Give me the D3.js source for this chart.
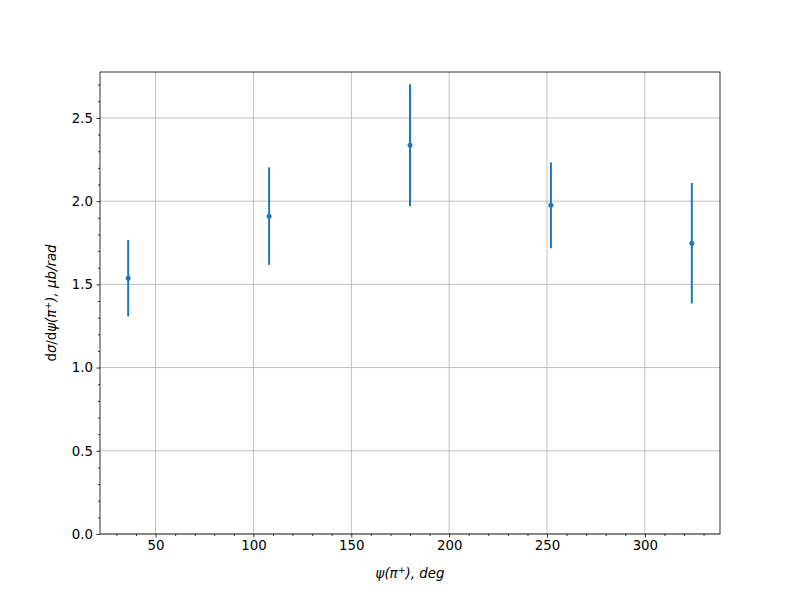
<!DOCTYPE html>
<html><head><meta charset="utf-8">
<script src="https://cdn.jsdelivr.net/npm/d3@7"></script>
<style>body{margin:0;background:#fff}svg{font-family:"DejaVu Sans",sans-serif}</style>
</head><body><svg id="c" width="800" height="600"></svg>
<script>
const psi = [36, 108, 180, 252, 324];
const values = [1.537, 1.910, 2.336, 1.975, 1.747];
const errors = [0.230, 0.293, 0.366, 0.258, 0.362];
const xTicks = [50, 100, 150, 200, 250, 300];
const yTicks = [0.0, 0.5, 1.0, 1.5, 2.0, 2.5];

const svg = d3.select("#c");
const L = 100, R = 720, T = 72, B = 534;
const x = d3.scaleLinear().domain([21.6, 338.4]).range([L, R]);
const y = d3.scaleLinear().domain([0, 2.776]).range([B, T]);
const blue = "#1f77b4";

// grid
svg.append("g").selectAll("line").data(xTicks).join("line")
  .attr("x1", d => x(d)).attr("x2", d => x(d)).attr("y1", T).attr("y2", B)
  .attr("stroke", "#b0b0b0").attr("stroke-width", 0.8);
svg.append("g").selectAll("line").data(yTicks).join("line")
  .attr("y1", d => y(d)).attr("y2", d => y(d)).attr("x1", L).attr("x2", R)
  .attr("stroke", "#b0b0b0").attr("stroke-width", 0.8);

// axes
const xMinor = d3.range(30, 339, 10).filter(v => v % 50 !== 0);
const yMinor = d3.range(1, 28).map(v => v / 10).filter(v => Math.round(v * 10) % 5 !== 0);
const xa = svg.append("g").attr("transform", `translate(0,${B})`)
  .call(d3.axisBottom(x).tickValues(xTicks).tickFormat(d3.format("d")).tickSize(3.5).tickPadding(3.5));
const xm = svg.append("g").attr("transform", `translate(0,${B})`)
  .call(d3.axisBottom(x).tickValues(xMinor).tickFormat("").tickSize(2));
const ya = svg.append("g").attr("transform", `translate(${L},0)`)
  .call(d3.axisLeft(y).tickValues(yTicks).tickFormat(d3.format(".1f")).tickSize(3.5).tickPadding(3.5));
const ym = svg.append("g").attr("transform", `translate(${L},0)`)
  .call(d3.axisLeft(y).tickValues(yMinor).tickFormat("").tickSize(2));
[xa, xm, ya, ym].forEach(g => {
  g.select(".domain").remove();
  g.selectAll("line").attr("stroke", "#000").attr("stroke-width", 0.8);
  g.selectAll("text").attr("font-size", 13.33).attr("fill", "#000").attr("font-family", "DejaVu Sans");
});

// frame
svg.append("rect").attr("x", L).attr("y", T).attr("width", R - L).attr("height", B - T)
  .attr("fill", "none").attr("stroke", "#000").attr("stroke-width", 0.8);

// error bars
svg.append("g").selectAll("line").data(psi).join("line")
  .attr("x1", (d, i) => x(d)).attr("x2", (d, i) => x(d))
  .attr("y1", (d, i) => y(values[i] - errors[i])).attr("y2", (d, i) => y(values[i] + errors[i]))
  .attr("stroke", blue).attr("stroke-width", 2);
svg.append("g").selectAll("circle").data(psi).join("circle")
  .attr("cx", d => x(d)).attr("cy", (d, i) => y(values[i])).attr("r", 2.5).attr("fill", blue);

// labels
const xl = svg.append("text").attr("x", (L + R) / 2).attr("y", 578).attr("text-anchor", "middle")
  .attr("font-size", 13.33);
xl.append("tspan").attr("font-style", "italic").text("ψ(π");
xl.append("tspan").attr("font-style", "italic").attr("font-size", 9.5).attr("dy", -5).text("+");
xl.append("tspan").attr("font-style", "italic").attr("dy", 5).text("), deg");

const yl = svg.append("text").attr("transform", `translate(56,${(T + B) / 2}) rotate(-90)`)
  .attr("text-anchor", "middle").attr("font-size", 13.33);
yl.append("tspan").text("d");
yl.append("tspan").attr("font-style", "italic").text("σ");
yl.append("tspan").text("/d");
yl.append("tspan").attr("font-style", "italic").text("ψ(π");
yl.append("tspan").attr("font-style", "italic").attr("font-size", 9.5).attr("dy", -5).text("+");
yl.append("tspan").attr("font-style", "italic").attr("dy", 5).text("), μb/rad");
</script></body></html>
